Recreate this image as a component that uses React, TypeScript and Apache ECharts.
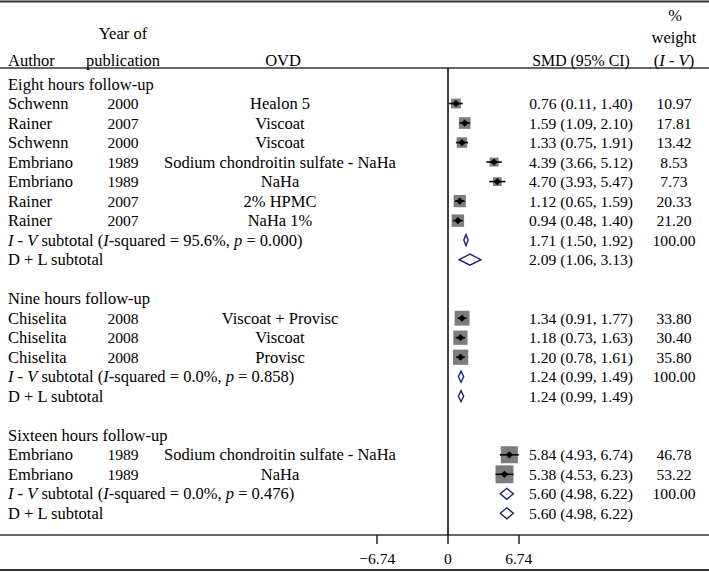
import React, { useEffect, useRef } from "react";
import * as echarts from "echarts";

// ---- data ----
const groupNames = ["Eight hours follow-up", "Nine hours follow-up", "Sixteen hours follow-up"];
const studyAuthors = ["Schwenn", "Rainer", "Schwenn", "Embriano", "Embriano", "Rainer", "Rainer", "Chiselita", "Chiselita", "Chiselita", "Embriano", "Embriano"];
const studyYears = ["2000", "2007", "2000", "1989", "1989", "2007", "2007", "2008", "2008", "2008", "1989", "1989"];
const studyOVD = ["Healon 5", "Viscoat", "Viscoat", "Sodium chondroitin sulfate - NaHa", "NaHa", "2% HPMC", "NaHa 1%", "Viscoat + Provisc", "Viscoat", "Provisc", "Sodium chondroitin sulfate - NaHa", "NaHa"];
const studyGroup = [0, 0, 0, 0, 0, 0, 0, 1, 1, 1, 2, 2];
const studySMD = [0.76, 1.59, 1.33, 4.39, 4.70, 1.12, 0.94, 1.34, 1.18, 1.20, 5.84, 5.38];
const studyLower = [0.11, 1.09, 0.75, 3.66, 3.93, 0.65, 0.48, 0.91, 0.73, 0.78, 4.93, 4.53];
const studyUpper = [1.40, 2.10, 1.91, 5.12, 5.47, 1.59, 1.40, 1.77, 1.63, 1.61, 6.74, 6.23];
const studyWeight = ["10.97", "17.81", "13.42", "8.53", "7.73", "20.33", "21.20", "33.80", "30.40", "35.80", "46.78", "53.22"];
const ivSMD = [1.71, 1.24, 5.60];
const ivLower = [1.50, 0.99, 4.98];
const ivUpper = [1.92, 1.49, 6.22];
const ivISquared = ["95.6%", "0.0%", "0.0%"];
const ivP = ["0.000", "0.858", "0.476"];
const dlSMD = [2.09, 1.24, 5.60];
const dlLower = [1.06, 0.99, 4.98];
const dlUpper = [3.13, 1.49, 6.22];
const axisTickValues = [-6.74, 0, 6.74];

type Row = { kind: "group" | "study" | "iv" | "dl" | "blank"; gi?: number; si?: number };
const rows: Row[] = [];
groupNames.forEach((_, gi) => {
  rows.push({ kind: "group", gi });
  studyGroup.forEach((g, si) => {
    if (g === gi) rows.push({ kind: "study", si });
  });
  rows.push({ kind: "iv", gi });
  rows.push({ kind: "dl", gi });
  if (gi < groupNames.length - 1) rows.push({ kind: "blank" });
});

const FONT = "Liberation Serif";
const FS = 16.5; // words
const NS = 15.6; // numbers
const fmt = (v: number) => v.toFixed(2);
const ciText = (m: number, l: number, u: number) => `${fmt(m)} (${fmt(l)}, ${fmt(u)})`;

export default function App() {
  const ref = useRef<HTMLDivElement>(null);
  useEffect(() => {
    if (!ref.current) return;
    const chart = echarts.init(ref.current, undefined, { renderer: "svg" });

    const markRows = rows
      .map((r, i) => ({ r, i }))
      .filter(({ r }) => r.kind === "study" || r.kind === "iv" || r.kind === "dl");

    const txt = (text: string, x: number, y: number, align: string, size = FS, rich = false) => ({
      type: "text",
      x,
      y,
      style: {
        text,
        fill: "#000",
        fontFamily: FONT,
        fontSize: size,
        align,
        verticalAlign: "middle",
        ...(rich
          ? { rich: { i: { fontStyle: "italic", fontFamily: FONT, fontSize: size, fill: "#000" } } }
          : {}),
      },
    });

    const option: any = {
      animation: false,
      grid: { left: 364, width: 168, top: 68, height: 467, containLabel: false },
      xAxis: {
        type: "value",
        position: "bottom",
        min: -8,
        max: 8,
        splitLine: { show: false },
        axisLine: { show: false, onZero: false },
        axisTick: {
          show: true,
          customValues: axisTickValues,
          length: 9,
          lineStyle: { color: "#222", width: 1.5 },
        },
        axisLabel: {
          customValues: axisTickValues,
          margin: 15,
          color: "#000",
          fontFamily: FONT,
          fontSize: NS,
          formatter: (v: number) => (v === 0 ? "0" : v < 0 ? "\u2212" + Math.abs(v).toFixed(2) : v.toFixed(2)),
        },
      },
      yAxis: { type: "value", inverse: true, min: -0.82, max: 23.11, show: false },
      graphic: [
        { type: "line", shape: { x1: 0, y1: 1.5, x2: 709, y2: 1.5 }, style: { stroke: "#333", lineWidth: 2 } },
        { type: "line", shape: { x1: 0, y1: 68, x2: 709, y2: 68 }, style: { stroke: "#333", lineWidth: 1.5 } },
        { type: "line", shape: { x1: 0, y1: 535, x2: 709, y2: 535 }, style: { stroke: "#333", lineWidth: 1.5 } },
        { type: "line", shape: { x1: 0, y1: 570, x2: 709, y2: 570 }, style: { stroke: "#333", lineWidth: 2 } },
        txt("Author", 8, 60, "left"),
        txt("Year of", 123, 33, "center"),
        txt("publication", 123, 60, "center"),
        txt("OVD", 283, 60, "center"),
        txt("SMD (95% CI)", 581, 60, "center", 15.8),
        txt("%", 675, 15, "center"),
        txt("weight", 674, 37.5, "center"),
        txt("({i|I} - {i|V})", 674, 60, "center", FS, true),
      ],
      series: [
        {
          type: "custom",
          name: "text",
          silent: true,
          clip: false,
          data: rows.map((_, i) => [0, i]),
          renderItem: (params: any, api: any) => {
            const r = rows[params.dataIndex];
            const y = api.coord([0, params.dataIndex])[1];
            const children: any[] = [];
            if (r.kind === "group") {
              children.push(txt(groupNames[r.gi!], 8, y, "left"));
            } else if (r.kind === "study") {
              const s = r.si!;
              children.push(txt(studyAuthors[s], 8, y, "left"));
              children.push(txt(studyYears[s], 123, y, "center", NS));
              children.push(txt(studyOVD[s], 280, y, "center"));
              children.push(txt(ciText(studySMD[s], studyLower[s], studyUpper[s]), 581, y, "center", NS));
              children.push(txt(studyWeight[s], 674, y, "center", NS));
            } else if (r.kind === "iv") {
              const g = r.gi!;
              children.push(
                txt(`{i|I - V} subtotal ({i|I}-squared = ${ivISquared[g]}, {i|p} = ${ivP[g]})`, 8, y, "left", FS, true)
              );
              children.push(txt(ciText(ivSMD[g], ivLower[g], ivUpper[g]), 581, y, "center", NS));
              children.push(txt("100.00", 674, y, "center", NS));
            } else if (r.kind === "dl") {
              const g = r.gi!;
              children.push(txt("D + L subtotal", 8, y, "left"));
              children.push(txt(ciText(dlSMD[g], dlLower[g], dlUpper[g]), 581, y, "center", NS));
            }
            return { type: "group", children };
          },
        },
        {
          type: "custom",
          name: "marks",
          silent: true,
          clip: false,
          data: markRows.map(({ r, i }) => {
            if (r.kind === "study") return [studySMD[r.si!], i, studyLower[r.si!], studyUpper[r.si!]];
            if (r.kind === "iv") return [ivSMD[r.gi!], i, ivLower[r.gi!], ivUpper[r.gi!]];
            return [dlSMD[r.gi!], i, dlLower[r.gi!], dlUpper[r.gi!]];
          }),
          renderItem: (params: any, api: any) => {
            const { r } = markRows[params.dataIndex];
            const row = api.value(1);
            const [cx, cy] = api.coord([api.value(0), row]);
            const lo = api.coord([api.value(2), row])[0];
            const hi = api.coord([api.value(3), row])[0];
            if (r.kind === "study") {
              const side = 3 + 2.05 * Math.sqrt(parseFloat(studyWeight[r.si!]));
              const d = 3.6;
              return {
                type: "group",
                children: [
                  {
                    type: "rect",
                    shape: { x: cx - side / 2, y: cy - side / 2, width: side, height: side },
                    style: { fill: "#7d7d7d" },
                  },
                  {
                    type: "line",
                    shape: { x1: lo, y1: cy, x2: hi, y2: cy },
                    style: { stroke: "#000", lineWidth: 1.6 },
                  },
                  {
                    type: "polygon",
                    shape: { points: [[cx - d, cy], [cx, cy - d], [cx + d, cy], [cx, cy + d]] },
                    style: { fill: "#000" },
                  },
                ],
              };
            }
            const h = 5.5;
            return {
              type: "polygon",
              shape: { points: [[lo, cy], [cx, cy - h], [hi, cy], [cx, cy + h]] },
              style: { fill: "#fff", stroke: "#1c2170", lineWidth: 1.4 },
            };
          },
          markLine: {
            silent: true,
            symbol: "none",
            label: { show: false },
            lineStyle: { color: "#000", width: 1.5, type: "solid" },
            data: [{ xAxis: 0 }],
          },
        },
      ],
    };
    chart.setOption(option);
    return () => chart.dispose();
  }, []);
  return (
    <div
      ref={ref}
      style={{ position: "fixed", left: 0, top: 0, width: 709, height: 572, background: "#fff" }}
    />
  );
}
